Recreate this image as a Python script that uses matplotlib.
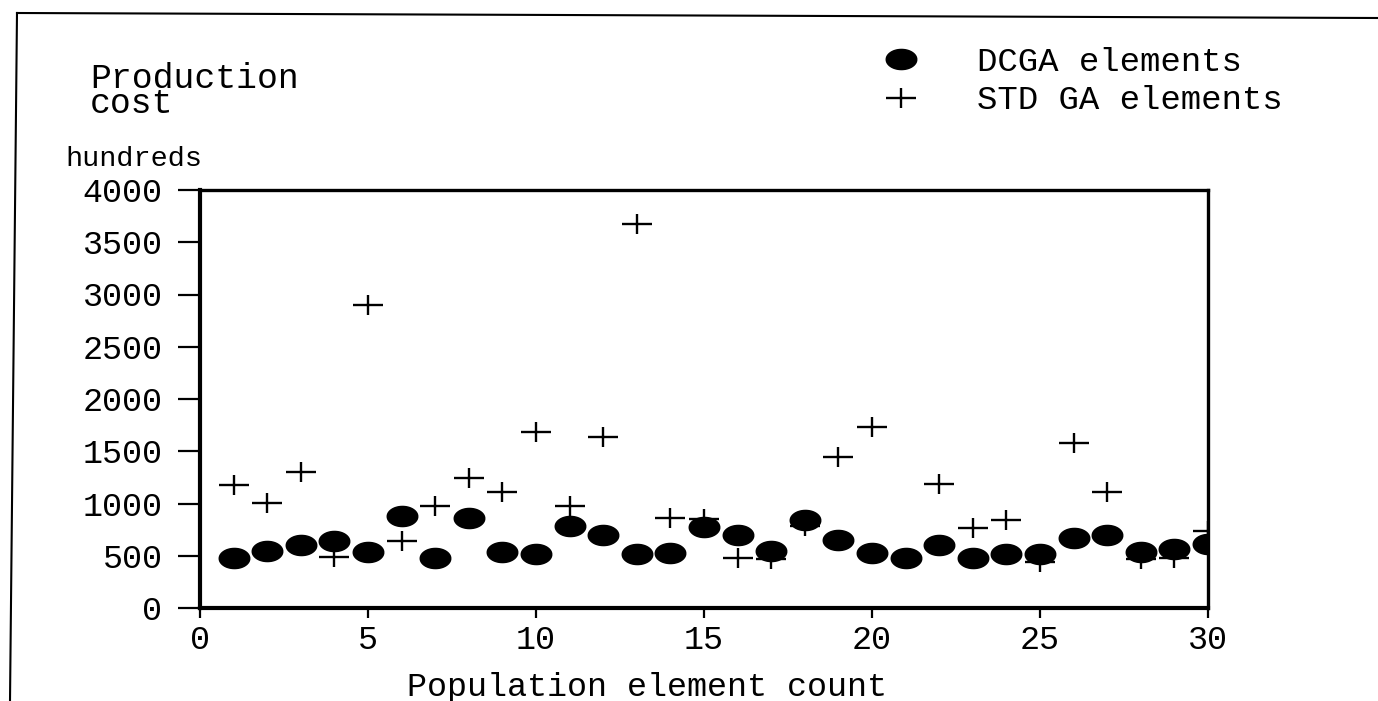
import numpy as np
import matplotlib
matplotlib.use("Agg")
import matplotlib.pyplot as plt
from matplotlib.path import Path
from matplotlib.lines import Line2D

# population element index
element = list(range(1, 31))
# production cost (hundreds) of each population element
dcga_cost = [481, 550, 607, 638, 535, 880, 481, 858, 535, 513,
             786, 701, 519, 525, 777, 701, 544, 840, 654, 528,
             481, 604, 481, 519, 519, 670, 701, 535, 566, 613]
std_ga_cost = [1173, 1003, 1299, 487, 2900, 645, 975, 1242, 1107, 1683,
               975, 1635, 3675, 859, 850, 481, 470, 780, 1447, 1736,
               480, 1186, 761, 840, 440, 1579, 1110, 470, 480, 739]
x_ticks = [0, 5, 10, 15, 20, 25, 30]
y_ticks = [0, 500, 1000, 1500, 2000, 2500, 3000, 3500, 4000]

W, H = 1378, 701
plt.rcParams["font.family"] = ["Liberation Mono", "DejaVu Sans Mono"]


def fx(px):
    return px / W


def fy(py):
    return 1 - py / H


# flattened markers like the scanned original
theta = np.linspace(0, 2 * np.pi, 64)
ellipse = Path(np.column_stack([np.cos(theta), 0.66 * np.sin(theta)]))
cross = Path([(-1, 0), (1, 0), (0, -0.68), (0, 0.68)],
             [Path.MOVETO, Path.LINETO, Path.MOVETO, Path.LINETO])

fig = plt.figure(figsize=(W / 100, H / 100), dpi=100)
ax = fig.add_axes([fx(200), fy(608), 1008 / W, 418 / H])

ax.plot(element, dcga_cost, linestyle="none", marker=ellipse, markersize=22,
        color="black", label="DCGA elements")
ax.plot(element, std_ga_cost, linestyle="none", marker=cross, markersize=21.5,
        markeredgewidth=1.7, color="black", label="STD GA elements")

ax.set_xlim(0, 30)
ax.set_ylim(0, 4000)
ax.set_xticks(x_ticks)
ax.set_yticks(y_ticks)
ax.tick_params(axis="y", direction="out", length=16, width=1.6,
               labelsize=24, pad=11)
ax.tick_params(axis="x", direction="out", length=7, width=1.6,
               labelsize=24, pad=5)
ax.spines["left"].set_linewidth(3)
ax.spines["bottom"].set_linewidth(3)
ax.spines["top"].set_linewidth(2.4)
ax.spines["right"].set_linewidth(2.4)

ax.set_xlabel("Population element count", fontsize=24)
ax.xaxis.set_label_coords(447 / 1008, -64 / 418)

# y-axis title is two tightly stacked lines
fig.text(fx(90), fy(62), "Production\ncost", fontsize=25, va="top", ha="left",
         linespacing=0.7)
fig.text(fx(65), fy(166), "hundreds", fontsize=20.5, va="baseline", ha="left")

ax.legend(loc="upper left", bbox_to_anchor=(fx(884), fy(47)),
          bbox_transform=fig.transFigure, frameon=False, fontsize=24.5,
          handlelength=1.0, handletextpad=1.73, labelspacing=0.22,
          borderaxespad=0, borderpad=0)

# scanned page frame
fig.add_artist(Line2D([fx(17), fx(1378)], [fy(13), fy(18)], color="black", lw=1.5))
fig.add_artist(Line2D([fx(17), fx(10)], [fy(13), fy(701)], color="black", lw=1.5))

fig.savefig("out.png", dpi=100)
